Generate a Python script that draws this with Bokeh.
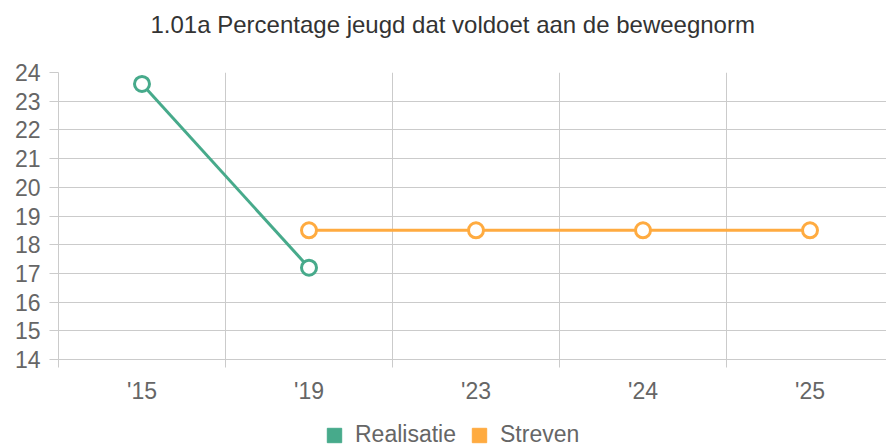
import math
from bokeh.plotting import figure
from bokeh.layouts import column
from bokeh.models import FixedTicker, Legend, LegendItem, Range1d, ColumnDataSource, Label
from bokeh.embed import file_html
from bokeh.resources import INLINE

# data
title_text = "1.01a Percentage jeugd dat voldoet aan de beweegnorm"
categories = ["'15", "'19", "'23", "'24", "'25"]
realisatie = [23.6, 17.2, math.nan, math.nan, math.nan]
streven = [math.nan, 18.5, 18.5, 18.5, 18.5]
y_ticks = list(range(14, 25))
series_names = ["Realisatie", "Streven"]

GREEN = "#47aa8b"
ORANGE = "#ffab40"
GRID = "#cbcbcb"
FONT = "Liberation Sans"
W = 886


def blank(height):
    f = figure(width=W, height=height, output_backend="svg", toolbar_location=None,
               x_axis_type=None, y_axis_type=None, x_range=Range1d(0, 1), y_range=Range1d(0, 1),
               min_border=0, min_border_left=0, min_border_right=0, min_border_top=0, min_border_bottom=0)
    f.outline_line_color = None
    f.grid.visible = False
    return f


# ---- title strip (frames of the column are aligned with the chart frame, left = 58)
ft = blank(60)
ft.add_layout(Label(x=92, y=36, x_units="screen", y_units="screen", text=title_text,
                    text_font=FONT, text_font_size="24px", text_color="#333333",
                    text_align="left", text_baseline="middle"))

# ---- main chart
xs = list(range(len(categories)))
src = ColumnDataSource(dict(x=xs, r=realisatie, s=streven))

p = figure(width=W, height=346, output_backend="svg", toolbar_location=None,
           x_range=Range1d(-0.5, -0.5 + 828 / 167), y_range=Range1d(14, 24),
           min_border_left=58, min_border_right=0, min_border_top=12, min_border_bottom=44)
p.outline_line_color = None

p.xaxis.ticker = FixedTicker(ticks=xs, minor_ticks=[i - 0.5 for i in range(len(categories) + 1)])
p.xaxis.major_label_overrides = {i: c for i, c in enumerate(categories)}
p.xaxis.major_tick_line_color = None
p.xaxis.major_tick_out = 8
p.xaxis.major_tick_in = 0
p.xaxis.minor_tick_line_color = GRID
p.xaxis.minor_tick_out = 8
p.xaxis.minor_tick_in = 0
p.xaxis.major_label_standoff = 10
p.xaxis.axis_line_color = GRID

p.yaxis.ticker = FixedTicker(ticks=y_ticks)
p.yaxis.major_tick_line_color = GRID
p.yaxis.major_tick_out = 9
p.yaxis.major_tick_in = 0
p.yaxis.minor_tick_line_color = None
p.yaxis.major_label_standoff = 9
p.yaxis.axis_line_color = GRID

for ax in (p.xaxis, p.yaxis):
    ax.major_label_text_font = FONT
    ax.major_label_text_font_size = "23px"
    ax.major_label_text_color = "#666666"

p.xgrid.ticker = FixedTicker(ticks=[i - 0.5 for i in range(len(categories) + 1)])
p.ygrid.ticker = FixedTicker(ticks=y_ticks)
p.xgrid.grid_line_color = GRID
p.ygrid.grid_line_color = GRID

p.line("x", "r", source=src, line_color=GREEN, line_width=3)
p.line("x", "s", source=src, line_color=ORANGE, line_width=3)
p.scatter("x", "r", source=src, size=15, line_color=GREEN, line_width=3, fill_color="white")
p.scatter("x", "s", source=src, size=15, line_color=ORANGE, line_width=3, fill_color="white")

# ---- legend strip (square swatches from placeholder quads without drawable data)
fl = blank(42)
nan = [math.nan]
lg_r = fl.quad(top=nan, bottom=nan, left=nan, right=nan, fill_color=GREEN, line_color=GREEN)
lg_s = fl.quad(top=nan, bottom=nan, left=nan, right=nan, fill_color=ORANGE, line_color=ORANGE)
legend = Legend(items=[LegendItem(label=series_names[0], renderers=[lg_r]),
                       LegendItem(label=series_names[1], renderers=[lg_s])],
                orientation="horizontal", location=(267, 0),
                label_text_font=FONT, label_text_font_size="23px", label_text_color="#666666",
                glyph_width=18, glyph_height=18, label_standoff=12, spacing=14,
                padding=0, margin=0, border_line_color=None, background_fill_alpha=0)
fl.add_layout(legend, "center")

layout = column(ft, p, fl, spacing=0)
open("out.html", "w").write(file_html(layout, INLINE))
